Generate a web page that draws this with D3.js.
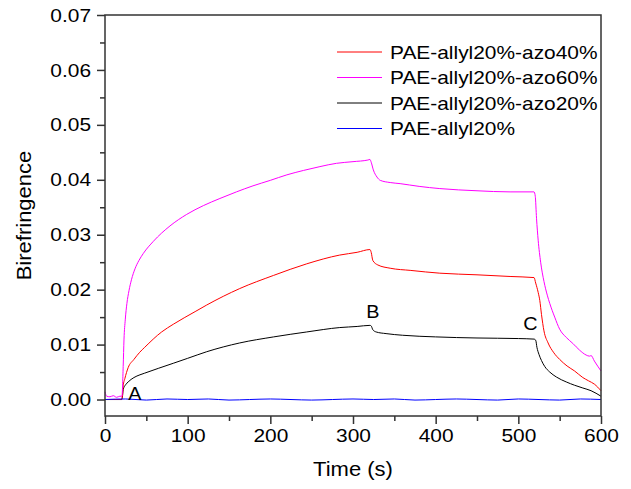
<!DOCTYPE html>
<html>
<head>
<meta charset="utf-8">
<script src="https://cdn.jsdelivr.net/npm/d3@7"></script>
<style>
  body { margin: 0; background: #fff; }
  text { font-family: Arial, "Liberation Sans", sans-serif; fill: #000; }
</style>
</head>
<body>
<div id="chart"></div>
<script>
// Series: [time (s), birefringence]
var azo40 = [[0,0],[20,0],[21,0.0005],[22,0.0025],[24,0.0038],[28,0.0058],[35,0.0073],[42,0.0086],[48,0.0095],
  [68.5,0.0123],[82.6,0.0137],[109,0.016],[123,0.0172],[163,0.0202],[204,0.0226],[244,0.0247],[284,0.0263],
  [305,0.0268],[320.5,0.0273],[322,0.0268],[324,0.0253],[330,0.0245],[345,0.0239],[370,0.0235],[405,0.023],
  [450,0.0227],[490,0.0224],[519,0.0222],[521,0.0212],[524,0.0195],[526,0.018],[528,0.0155],[531,0.0125],
  [536,0.0103],[543,0.0085],[550,0.0073],[559,0.0061],[568,0.0052],[578,0.004],[585,0.0034],[592,0.0028],[600,0.0016]];

var azo60 = [[0,0.0014],[2,0.0006],[6,0.0005],[10,0.0007],[14,0.0004],[18,0.0006],[20.5,0.0006],[22,0.006],
  [23,0.011],[24.5,0.0145],[26.5,0.0175],[29,0.0198],[32,0.0218],[36.3,0.0238],[41,0.0253],[46.4,0.0266],
  [58.5,0.0288],[78.6,0.0316],[98.8,0.0337],[119,0.0353],[139,0.0366],[159,0.0378],[179,0.0389],[200,0.0399],
  [220,0.0409],[240,0.0417],[260,0.0424],[280,0.043],[300,0.0433],[318,0.0436],[320.5,0.0437],[322,0.0432],
  [324.6,0.0418],[329,0.0405],[333,0.0399],[345,0.0395],[357,0.0393],[380,0.0388],[405,0.0384],[450,0.038],
  [490,0.0378],[519,0.0378],[520.5,0.037],[522,0.033],[524,0.029],[527,0.025],[531,0.0215],[535,0.019],
  [538,0.0175],[544,0.015],[550,0.0128],[558,0.0113],[566,0.0102],[574,0.009],[582,0.0081],[586,0.0079],
  [588,0.008],[592,0.007],[600,0.0052]];

var azo20 = [[0,0],[20,0],[21,0.0004],[22,0.0018],[25,0.0027],[28,0.0032],[35,0.004],[42.3,0.0045],[48,0.0048],
  [65,0.0057],[82.6,0.0066],[100,0.0075],[123,0.0087],[163,0.0103],[204,0.0114],[244,0.0123],[284,0.0131],
  [305,0.0133],[320.5,0.0135],[322,0.0134],[324,0.0127],[328,0.0123],[340,0.012],[360,0.0117],[400,0.0114],
  [450,0.0112],[500,0.0111],[519,0.011],[521,0.0108],[522.5,0.0095],[525,0.0082],[528,0.0071],[532,0.006],
  [538,0.005],[546,0.0041],[558,0.0032],[568,0.0026],[578,0.0021],[588,0.0016],[600,0.0006]];

var allyl20 = [[0,0],[25,0.0001],[50,-0.0001],[75,0.0001],[100,0],[125,0.0001],[150,-0.0001],[175,0],
  [200,0.0001],[225,0],[250,-0.0001],[275,0],[300,0.0001],[325,0],[350,0.0001],[375,-0.0001],[400,0],
  [425,0.0001],[450,0],[475,-0.0001],[500,0.0001],[525,0],[550,-0.0001],[575,0.0001],[600,0]];

var seriesNames = ["PAE-allyl20%-azo40%", "PAE-allyl20%-azo60%", "PAE-allyl20%-azo20%", "PAE-allyl20%"];
var seriesColors = ["#ff0000", "#ff00ff", "#000000", "#0000ff"];
var seriesData = [azo40, azo60, azo20, allyl20];

var xTicks = [0, 100, 200, 300, 400, 500, 600];
var xMinor = [50, 150, 250, 350, 450, 550];
var yTicks = [0, 0.01, 0.02, 0.03, 0.04, 0.05, 0.06, 0.07];
var yMinor = [0.005, 0.015, 0.025, 0.035, 0.045, 0.055, 0.065];

// point labels: [time, value, text]
var marks = [[28, -0.0001, "A"], [316, 0.0149, "B"], [506, 0.0127, "C"]];

var W = 631, H = 489;
var plot = {left: 105, right: 601, top: 15, bottom: 416};

var svg = d3.select("#chart").append("svg")
    .attr("width", W)
    .attr("height", H);

var xScale = d3.scaleLinear().domain([0, 600]).range([plot.left, plot.right]);
var yScale = d3.scaleLinear().domain([-0.003, 0.07]).range([plot.bottom, plot.top]);

var axisColor = "#333";

// Curves, back to front
var line = d3.line()
    .x(function(d) { return xScale(d[0]); })
    .y(function(d) { return yScale(d[1]); })
    .curve(d3.curveMonotoneX);

[2, 0, 1, 3].forEach(function(i) {
  svg.append("path")
      .attr("d", line(seriesData[i]))
      .attr("fill", "none")
      .attr("stroke", seriesColors[i])
      .attr("stroke-width", 1);
});

// Frame
svg.append("rect")
    .attr("x", plot.left).attr("y", plot.top)
    .attr("width", plot.right - plot.left).attr("height", plot.bottom - plot.top)
    .attr("fill", "none")
    .attr("stroke", axisColor)
    .attr("stroke-width", 1.5);

// x axis
var xAxis = svg.append("g")
    .attr("transform", "translate(0," + plot.bottom + ")")
    .call(d3.axisBottom(xScale).tickValues(xTicks).tickSize(8).tickPadding(5).tickFormat(d3.format("d")));
xAxis.append("g")
    .call(d3.axisBottom(xScale).tickValues(xMinor).tickSize(5).tickFormat(""));

// y axis
var yAxis = svg.append("g")
    .attr("transform", "translate(" + plot.left + ",0)")
    .call(d3.axisLeft(yScale).tickValues(yTicks).tickSize(8).tickPadding(6).tickFormat(d3.format(".2f")));
yAxis.append("g")
    .call(d3.axisLeft(yScale).tickValues(yMinor).tickSize(5).tickFormat(""));

svg.selectAll(".domain").remove();
svg.selectAll(".tick line").attr("stroke", axisColor).attr("stroke-width", 1.5);
svg.selectAll(".tick text").style("font-size", "19px").attr("fill", "#000");

// Axis titles
svg.append("text")
    .attr("x", (plot.left + plot.right) / 2)
    .attr("y", 476)
    .attr("text-anchor", "middle")
    .style("font-size", "20px")
    .text("Time (s)");

svg.append("text")
    .attr("transform", "translate(31," + ((plot.top + plot.bottom) / 2) + ") rotate(-90)")
    .attr("text-anchor", "middle")
    .style("font-size", "20px")
    .text("Birefringence");

// Point labels
svg.selectAll(".mark")
    .data(marks)
    .enter().append("text")
    .attr("class", "mark")
    .attr("x", function(d) { return xScale(d[0]); })
    .attr("y", function(d) { return yScale(d[1]); })
    .style("font-size", "18px")
    .text(function(d) { return d[2]; });

// Legend
var legend = svg.append("g").attr("transform", "translate(337,52)");
seriesNames.forEach(function(name, i) {
  var row = legend.append("g").attr("transform", "translate(0," + (i * 25.5) + ")");
  row.append("line")
      .attr("x1", 0).attr("x2", 45)
      .attr("stroke", seriesColors[i])
      .attr("stroke-width", 1);
  row.append("text")
      .attr("x", 53)
      .attr("dy", "0.35em")
      .style("font-size", "19px")
      .text(name);
});

// the original lettering is a little wider than Arial
svg.selectAll("text").each(function() {
  var len = this.getComputedTextLength();
  if (len > 0) {
    d3.select(this).attr("textLength", len * 1.1).attr("lengthAdjust", "spacingAndGlyphs");
  }
});
</script>
</body>
</html>
